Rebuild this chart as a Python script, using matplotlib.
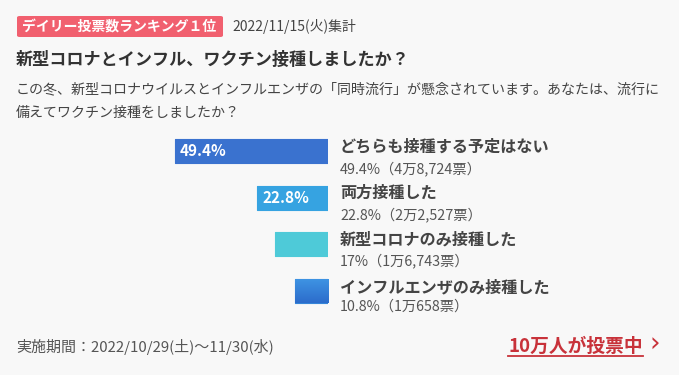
import matplotlib
matplotlib.use("Agg")
import matplotlib.pyplot as plt
import numpy as np
from matplotlib.patches import FancyBboxPatch
from matplotlib.lines import Line2D
from matplotlib.colors import LinearSegmentedColormap

plt.rcParams['font.family'] = ['Noto Sans CJK JP', 'DejaVu Sans']

# ---- data ----
badge_text = "デイリー投票数ランキング１位"
date_text = "2022/11/15(火)集計"
title = "新型コロナとインフル、ワクチン接種しましたか？"
desc_lines = ["この冬、新型コロナウイルスとインフルエンザの「同時流行」が懸念されています。あなたは、流行に",
              "備えてワクチン接種をしましたか？"]
categories = ["どちらも接種する予定はない", "両方接種した", "新型コロナのみ接種した", "インフルエンザのみ接種した"]
percents = [49.4, 22.8, 17.0, 10.8]
pct_labels = ["49.4%", "22.8%", "17%", "10.8%"]
votes = ["4万8,724票", "2万2,527票", "1万6,743票", "1万658票"]
period_text = "実施期間：2022/10/29(土)〜11/30(水)"
link_text = "10万人が投票中"

bar_colors = ["#3a72cf", "#36a3e1", "#4ecad8", "#3585d8"]

W, H = 679, 375
fig = plt.figure(figsize=(W / 100, H / 100), dpi=100)
fig.patch.set_facecolor("#f8f8f8")

def P(x, y):
    return (x / W, 1 - y / H)

# badge
bx0, by0, bx1, by1 = 17, 16, 223, 37
badge = FancyBboxPatch(P(bx0, by1), (bx1 - bx0) / W, (by1 - by0) / H,
                       boxstyle="round,pad=0,rounding_size=0.004",
                       transform=fig.transFigure, facecolor="#f1606f", edgecolor="none")
fig.add_artist(badge)
fig.text(*P(22, 27), badge_text, color="white", fontsize=10, fontweight="bold", va="center", ha="left")
fig.text(*P(232, 27), date_text, color="#444444", fontsize=10, va="center", ha="left")

# title and description
fig.text(*P(16, 60), title, color="#333333", fontsize=12.3, fontweight="bold", va="center", ha="left")
fig.text(*P(16, 89), desc_lines[0], color="#444444", fontsize=10.1, va="center", ha="left")
fig.text(*P(16, 113), desc_lines[1], color="#444444", fontsize=10.1, va="center", ha="left")

# bars
ax = fig.add_axes([173 / W, 1 - 314 / H, (328 - 173) / W, (314 - 128) / H])
ax.set_facecolor("none")
ypos = list(range(len(categories)))
bh = 0.52
bars = ax.barh(ypos, percents, height=bh, color=bar_colors, edgecolor=bar_colors,
               linewidth=0.8, joinstyle="round")
ax.set_xlim(50, 0)
ax.set_ylim(len(categories) - 0.5, -0.5)
ax.axis("off")

# gradient on the last bar
last = bars[-1]
cmap = LinearSegmentedColormap.from_list("g", ["#3f95e4", "#2c6ccb"])
grad = np.linspace(0, 1, 64).reshape(-1, 1)
im = ax.imshow(grad, cmap=cmap, aspect="auto",
               extent=(percents[-1], 0, ypos[-1] + bh / 2, ypos[-1] - bh / 2), zorder=3)
im.set_clip_path(last)
ax.set_xlim(50, 0)
ax.set_ylim(len(categories) - 0.5, -0.5)

for i, (p, lab) in enumerate(zip(percents, pct_labels)):
    if p > 20:
        ax.annotate(lab, xy=(p, i), xytext=(3.5, 0), textcoords="offset points",
                    color="white", fontsize=11, fontweight="bold", va="center", ha="left")

label_y = [147, 193, 240, 287]
sub_y = [169, 215, 261, 307]
for i, cat in enumerate(categories):
    fig.text(*P(340, label_y[i]), cat, color="#444444", fontsize=11.6, fontweight="bold", va="center", ha="left")
    fig.text(*P(340, sub_y[i]), f"{pct_labels[i]}（{votes[i]}）", color="#555555", fontsize=10.3,
             va="center", ha="left")

# footer
fig.text(*P(16, 347), period_text, color="#555555", fontsize=10.8, va="center", ha="left")
fig.text(*P(508, 346), link_text, color="#c8323a", fontsize=13.5, fontweight="bold", va="center", ha="left")
fig.add_artist(Line2D([508 / W, 643 / W], [1 - 355.5 / H, 1 - 355.5 / H], transform=fig.transFigure,
                      color="#c8323a", linewidth=1.3))
fig.text(*P(650, 345), "›", color="#c8323a", fontsize=19, va="center", ha="left",
         family=["DejaVu Sans"])

fig.savefig("out.png", dpi=100, facecolor=fig.get_facecolor())
